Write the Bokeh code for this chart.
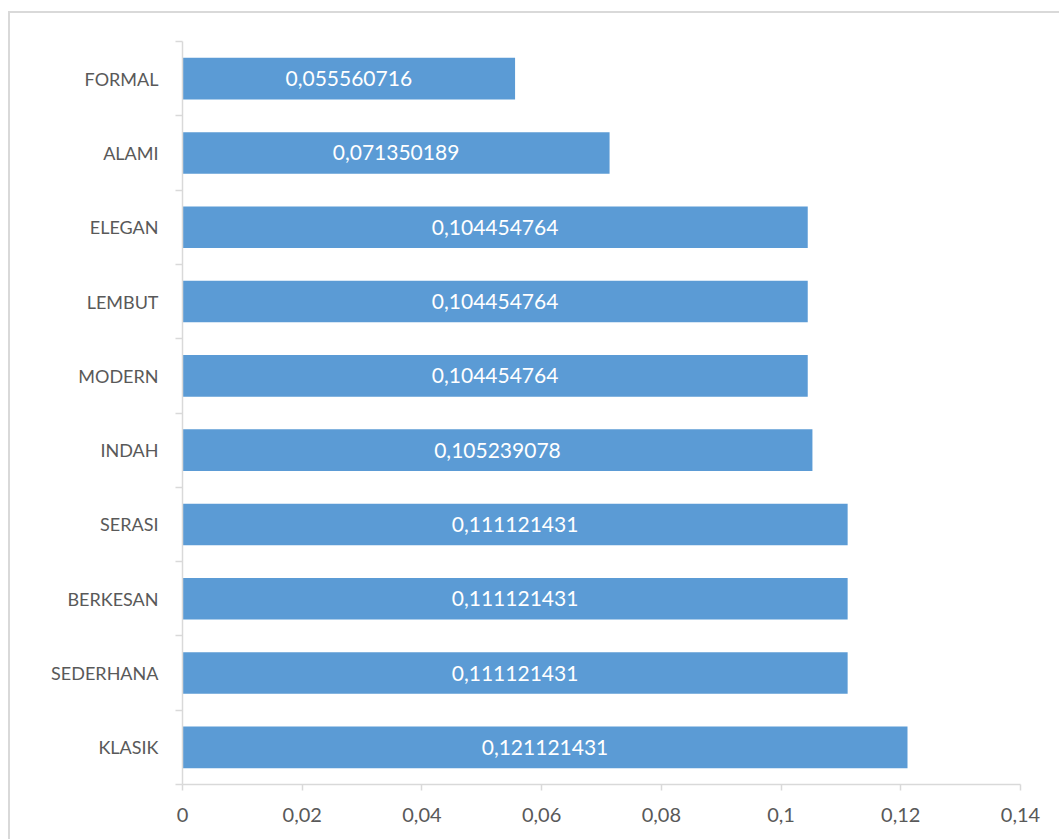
from bokeh.plotting import figure
from bokeh.models import ColumnDataSource, Range1d, FixedTicker, InlineStyleSheet
from bokeh.core.properties import value
from bokeh.embed import file_html
from bokeh.resources import INLINE

# Data (bottom to top)
categories = ["KLASIK", "SEDERHANA", "BERKESAN", "SERASI", "INDAH",
              "MODERN", "LEMBUT", "ELEGAN", "ALAMI", "FORMAL"]
values = [0.121121431, 0.111121431, 0.111121431, 0.111121431, 0.105239078,
          0.104454764, 0.104454764, 0.104454764, 0.071350189, 0.055560716]
value_labels = ["0,121121431", "0,111121431", "0,111121431", "0,111121431", "0,105239078",
                "0,104454764", "0,104454764", "0,104454764", "0,071350189", "0,055560716"]
x_ticks = [0, 0.02, 0.04, 0.06, 0.08, 0.1, 0.12, 0.14]
x_tick_labels = ["0", "0,02", "0,04", "0,06", "0,08", "0,1", "0,12", "0,14"]

n = len(categories)
pos = [i + 0.5 for i in range(n)]

src = ColumnDataSource(dict(
    y=pos, right=values, mid=[v / 2 for v in values], lab=value_labels, cat=categories))

p = figure(width=1059, height=839, output_backend="svg", toolbar_location=None,
           x_range=Range1d(0, 0.14), y_range=Range1d(0, n),
           min_border_left=182, min_border_right=39, min_border_top=41, min_border_bottom=55)
p.outline_line_color = None
p.xgrid.visible = False
p.ygrid.visible = False
p.background_fill_color = "white"
p.border_fill_color = "white"
p.border_fill_alpha = 0
# chart border (left and top edges; right and bottom lie outside the window)
p.styles = {
    "background-color": "white",
    "background-image": "linear-gradient(#d9d9d9, #d9d9d9), linear-gradient(#d9d9d9, #d9d9d9)",
    "background-position": "8px 11px, 8px 11px",
    "background-size": "1060px 2px, 2px 840px",
    "background-repeat": "no-repeat, no-repeat",
}
p.stylesheets = [InlineStyleSheet(css='text[text-anchor="end"] { letter-spacing: 3px; }')]

p.hbar(y="y", left=0, right="right", height=0.56, source=src,
       fill_color="#5B9BD5", line_color=None)
p.text(x="mid", y="y", text="lab", source=src, text_align="center",
       text_baseline="middle", text_color="white", text_font=value("Lato"),
       text_font_size="21px")

# x axis
xa = p.xaxis[0]
xa.ticker = FixedTicker(ticks=x_ticks, minor_ticks=[])
xa.major_label_overrides = {t: s for t, s in zip(x_ticks, x_tick_labels)}
xa.axis_line_color = "#d9d9d9"
xa.axis_line_width = 1.5
xa.major_tick_line_color = "#d9d9d9"
xa.major_tick_line_width = 1.5
xa.major_tick_in = 0
xa.major_tick_out = 6
xa.minor_tick_line_color = None
xa.major_label_text_font = "Lato"
xa.major_label_text_font_size = "20px"
xa.major_label_text_color = "#595959"
xa.major_label_standoff = 17

# y axis
ya = p.yaxis[0]
ya.ticker = FixedTicker(ticks=pos, minor_ticks=list(range(n + 1)))
ya.major_label_overrides = {y: c for y, c in zip(pos, categories)}
ya.axis_line_color = "#d9d9d9"
ya.axis_line_width = 1.5
ya.major_tick_line_color = None
ya.major_tick_in = 0
ya.major_tick_out = 0
ya.minor_tick_line_color = "#d9d9d9"
ya.minor_tick_line_width = 1.5
ya.minor_tick_in = 0
ya.minor_tick_out = 7
ya.major_label_text_font = "Lato"
ya.major_label_text_font_size = "18px"
ya.major_label_text_color = "#595959"
ya.major_label_standoff = 17

open("out.html", "w").write(file_html(p, INLINE))
